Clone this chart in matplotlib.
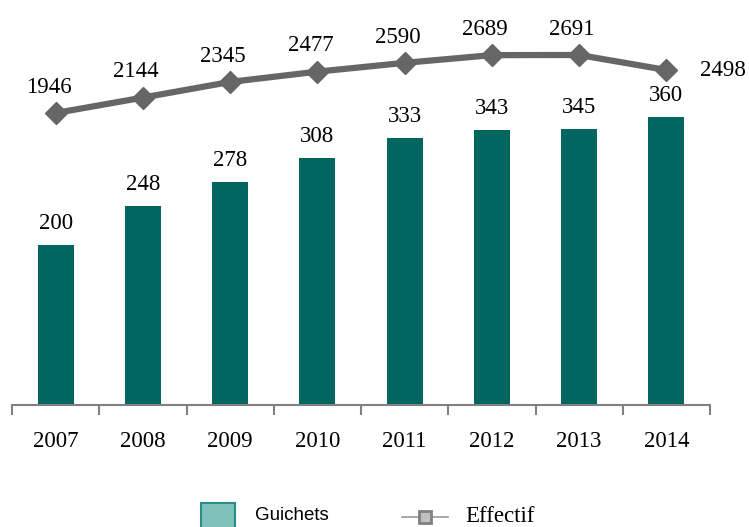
import matplotlib
matplotlib.use("Agg")
import matplotlib.pyplot as plt
from matplotlib.patches import Rectangle
from matplotlib.lines import Line2D

years = ["2007", "2008", "2009", "2010", "2011", "2012", "2013", "2014"]
guichets = [200, 248, 278, 308, 333, 343, 345, 360]
effectif = [1946, 2144, 2345, 2477, 2590, 2689, 2691, 2498]

W, H = 749, 527
fig = plt.figure(figsize=(W / 100, H / 100), dpi=100)
left, right, bottom_px, top_px = 12, 710, 405, 20
ax = fig.add_axes([left / W, (H - bottom_px) / H, (right - left) / W, (bottom_px - top_px) / H])

serif = "Liberation Serif"
fs = 16.5
bar_color = "#00665F"
line_color = "#666666"

x = list(range(len(years)))
ax.bar(x, guichets, width=0.41, color=bar_color, zorder=2)
ax.set_xlim(-0.5, len(years) - 0.5)
ax.set_ylim(0, 481)
for xi, v in zip(x, guichets):
    ax.annotate(str(v), (xi, v), xytext=(0, 8), textcoords="offset points",
                ha="center", va="bottom", fontsize=fs, family=serif)

for s in ["top", "right", "left"]:
    ax.spines[s].set_visible(False)
ax.spines["bottom"].set_color("#808080")
ax.spines["bottom"].set_linewidth(1.5)
ax.set_yticks([])
ax.set_xticks([i - 0.5 for i in range(len(years) + 1)], minor=False)
ax.set_xticklabels([])
ax.tick_params(axis="x", which="major", length=7, width=1.5, color="#808080", direction="out")
ax.set_xticks(x, minor=True)
ax.set_xticklabels(years, minor=True, fontsize=fs, family=serif)
ax.tick_params(axis="x", which="minor", length=0, pad=19)

ax2 = ax.twinx()
ax2.set_ylim(-1802, 3140)
ax2.plot(x, effectif, color=line_color, lw=4.5, marker="D", markersize=11,
         markerfacecolor=line_color, markeredgecolor=line_color, zorder=3)
ax2.set_yticks([])
for s in ["top", "right", "left", "bottom"]:
    ax2.spines[s].set_visible(False)
for i, (xi, v) in enumerate(zip(x, effectif)):
    if i == len(x) - 1:
        ax2.annotate(str(v), (xi, v), xytext=(24, 0), textcoords="offset points",
                     ha="left", va="center", fontsize=fs, family=serif)
    else:
        ax2.annotate(str(v), (xi, v), xytext=(-5, 11), textcoords="offset points",
                     ha="center", va="bottom", fontsize=fs, family=serif)

# legend (manual, partially cut at bottom like the reference)
fig.patches.append(Rectangle((201 / W, -0.02), 34 / W, (H - 503) / H + 0.02,
                             transform=fig.transFigure, facecolor="#80C1BB",
                             edgecolor="#2A8C84", lw=1.5))
fig.text(255 / W, (H - 516) / H, "Guichets", family="Liberation Sans", fontsize=13.5,
         ha="left", va="center")
fig.lines.append(Line2D([402 / W, 448 / W], [(H - 517) / H] * 2, transform=fig.transFigure,
                        color="#999999", lw=1.2, marker=None))
fig.lines.append(Line2D([425 / W], [(H - 517) / H], transform=fig.transFigure,
                        color="#999999", marker="s", markersize=8,
                        markerfacecolor="#C0C0C0", markeredgecolor="#808080", markeredgewidth=2))
fig.text(465 / W, (H - 516) / H, "Effectif", family=serif, fontsize=fs,
         ha="left", va="center")

fig.savefig("out.png", dpi=100)
